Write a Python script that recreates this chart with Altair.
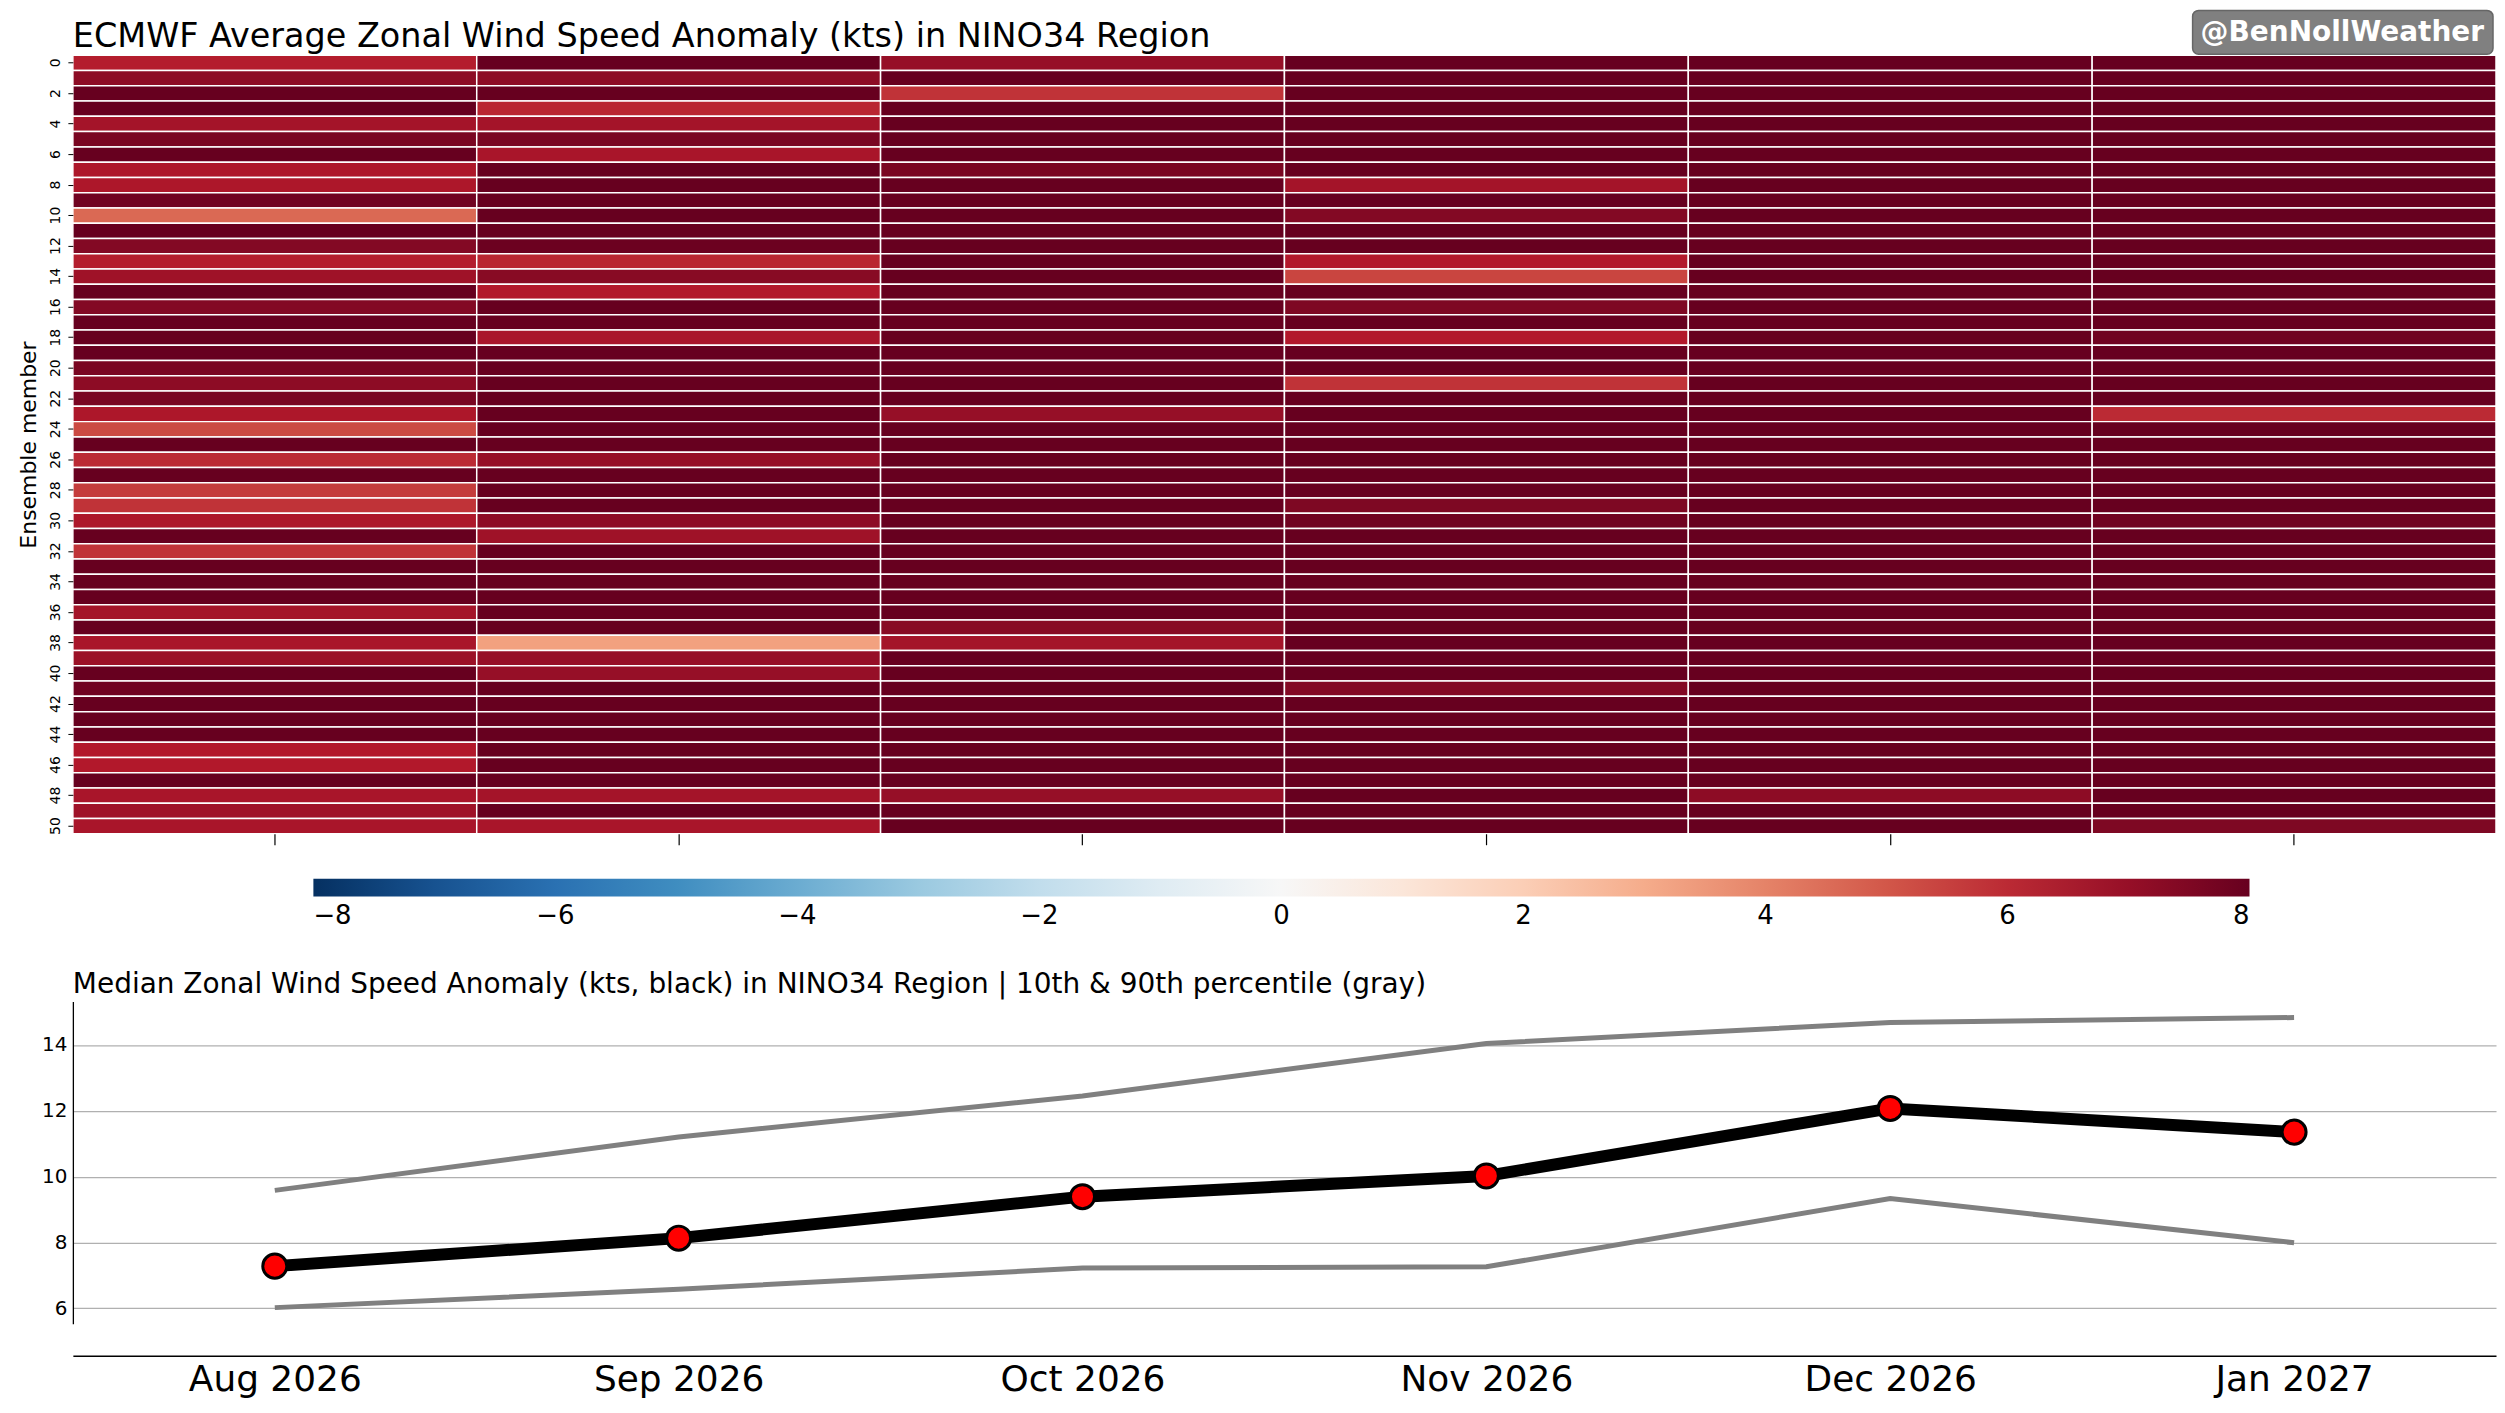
import altair as alt
import pandas as pd

months = ["Aug 2026", "Sep 2026", "Oct 2026", "Nov 2026", "Dec 2026", "Jan 2027"]
members = list(range(51))

aug = [6.3, 7.2, 9.0, 8.8, 6.7, 7.6, 8.5, 6.5, 6.5, 7.8, 4.6, 8.7, 7.4, 6.3, 6.8, 8.4, 7.4,
       9.7, 8.3, 8.9, 7.6, 7.2, 7.6, 6.5, 5.3, 10.2, 6.0, 8.6, 5.6, 5.8, 6.5, 8.2, 5.8, 11.0,
       8.5, 8.8, 6.7, 9.6, 6.6, 6.9, 8.4, 7.8, 10.5, 8.9, 8.3, 6.4, 6.4, 9.9, 6.6, 6.8, 6.6]
sep = [8.6, 7.2, 9.4, 6.1, 6.7, 7.6, 6.6, 8.8, 9.0, 8.1, 11.3, 8.05, 7.9, 6.1, 7.3, 6.4, 8.7,
       9.9, 6.6, 8.12, 9.2, 8.9, 12.3, 8.2, 9.1, 11.2, 7.0, 8.14, 9.5, 8.8, 7.2, 6.8, 11.6, 8.6,
       9.3, 11.5, 8.15, 9.7, 3.3, 7.0, 7.0, 8.9, 10.8, 8.1, 9.4, 8.7, 11.9, 9.0, 6.7, 8.18, 6.6]
octo = [7.0, 9.8, 5.8, 10.6, 8.9, 9.2, 11.4, 7.6, 12.5, 9.5, 8.4, 10.1, 13.2, 9.0, 8.6, 11.0,
        9.7, 12.8, 8.2, 10.4, 9.3, 8.8, 11.8, 7.0, 9.6, 13.6, 8.5, 10.9, 9.1, 12.1, 8.3, 9.9,
        10.3, 8.7, 12.6, 9.4, 11.2, 7.3, 6.7, 10.0, 8.1, 9.4, 14.2, 8.9, 10.7, 12.4, 9.0, 11.6,
        7.0, 8.0, 9.2]
nov = [10.8, 9.2, 12.4, 10.2, 8.6, 11.5, 9.8, 13.1, 6.7, 10.5, 7.4, 9.0, 12.0, 6.4, 5.4, 10.9,
       7.5, 14.6, 6.4, 9.5, 11.2, 5.8, 10.0, 8.3, 14.0, 9.7, 10.6, 12.7, 8.8, 7.5, 7.8, 11.8,
       9.3, 14.1, 10.3, 8.1, 14.05, 9.9, 11.0, 15.2, 10.0, 7.4, 12.2, 9.6, 8.4, 14.8, 10.1,
       11.4, 9.1, 13.0, 10.4]
dec = [12.8, 11.4, 13.9, 12.1, 10.2, 14.9, 12.6, 11.0, 9.2, 13.3, 12.0, 10.8, 15.4, 12.3, 9.3,
       11.7, 13.6, 12.9, 10.5, 14.2, 11.9, 12.1, 9.4, 13.0, 11.2, 14.7, 12.4, 10.0, 13.8, 11.5,
       12.7, 9.9, 15.8, 11.8, 12.2, 10.6, 14.4, 13.1, 8.9, 11.3, 12.5, 14.8, 10.9, 12.0, 13.5,
       9.35, 11.6, 16.1, 7.2, 12.2, 10.4]
jan = [12.2, 10.6, 13.4, 9.1, 11.8, 14.3, 10.2, 12.9, 8.4, 11.3, 15.6, 9.7, 12.5, 10.9, 8.1,
       13.8, 11.5, 10.0, 7.8, 14.9, 11.1, 12.7, 9.4, 6.0, 13.1, 11.4, 8.7, 15.2, 10.4, 12.0, 7.8,
       11.3, 13.6, 9.9, 14.8, 10.8, 12.3, 8.0, 11.7, 16.0, 9.2, 12.8, 10.5, 14.85, 11.0, 8.9,
       13.2, 11.6, 9.6, 12.1, 7.5]

median = [7.28, 8.13, 9.39, 10.02, 12.07, 11.35]
p90 = [9.58, 11.20, 12.45, 14.04, 14.68, 14.83]
p10 = [6.02, 6.58, 7.22, 7.26, 9.33, 7.99]

cbar_ticks = [-8, -6, -4, -2, 0, 2, 4, 6, 8]
member_ticks = list(range(0, 51, 2))
y_ticks = [6, 8, 10, 12, 14]

# RdBu_r colour stops (matplotlib) over -8 .. 8
rdbu_r = ["#053061", "#2166ac", "#4393c3", "#92c5de", "#d1e5f0", "#f7f7f7",
          "#fddbc7", "#f4a582", "#d6604d", "#b2182b", "#67001f"]
rdbu_stops = [-8, -6.4, -4.8, -3.2, -1.6, 0, 1.6, 3.2, 4.8, 6.4, 8]

title_top = "ECMWF Average Zonal Wind Speed Anomaly (kts) in NINO34 Region"
title_bottom = ("Median Zonal Wind Speed Anomaly (kts, black) in NINO34 Region | "
                "10th & 90th percentile (gray)")
watermark = "@BenNollWeather"

rows = []
for m, col in zip(months, [aug, sep, octo, nov, dec, jan]):
    for i, v in enumerate(col):
        rows.append({"month": m, "member": members[i], "anom": v})
heat_df = pd.DataFrame(rows)

W = 2428
H1 = 780
H2 = 323
FONT = "DejaVu Sans"

heat = alt.Chart(heat_df).mark_rect(stroke="white", strokeWidth=1.5).encode(
    x=alt.X("month:N", sort=months,
            scale=alt.Scale(paddingInner=0, paddingOuter=0),
            axis=alt.Axis(labels=False, title=None, domain=False, ticks=True,
                          tickSize=11, tickColor="black", tickWidth=1.2)),
    y=alt.Y("member:O", sort=members,
            scale=alt.Scale(paddingInner=0, paddingOuter=0),
            axis=alt.Axis(values=member_ticks, labelAngle=-90, labelFontSize=14,
                          tickSize=5, tickColor="black", domain=False,
                          labelPadding=5, title="Ensemble member", titleFontSize=22,
                          titleFontWeight="normal", titlePadding=8)),
    color=alt.Color("anom:Q",
                    scale=alt.Scale(domain=rdbu_stops, range=rdbu_r, interpolate="rgb",
                                    clamp=True),
                    legend=alt.Legend(orient="none", direction="horizontal", legendX=241,
                                      legendY=825, gradientLength=1940, gradientThickness=18,
                                      title=None, values=cbar_ticks, format=".0f",
                                      labelFontSize=26, labelAlign="center", padding=0,
                                      labelOffset=6, gradientStrokeWidth=0)),
)

txt_df = pd.DataFrame({"title": [title_top], "wm": [watermark]})
title_mark = alt.Chart(txt_df).mark_text(font=FONT, fontSize=33.5, color="black",
                                         align="left", baseline="alphabetic").encode(
    x=alt.value(0), y=alt.value(-8), text="title:N")
wm_box = alt.Chart(txt_df).mark_rect(fill="#808080", stroke="#666666", strokeWidth=1.5,
                                     cornerRadius=6).encode(
    x=alt.value(2124), x2=alt.value(2425), y=alt.value(-45), y2=alt.value(-1))
wm_text = alt.Chart(txt_df).mark_text(font=FONT, fontSize=28, fontWeight="bold", color="white",
                                      align="center", baseline="middle").encode(
    x=alt.value(2274), y=alt.value(-22), text="wm:N")

top = alt.layer(heat, title_mark, wm_box, wm_text).properties(width=W, height=H1)

line_df = pd.DataFrame({"month": months, "median": median, "p90": p90, "p10": p10})

xenc = alt.X("month:N", sort=months, scale=alt.Scale(type="point", padding=0.5),
             axis=alt.Axis(title=None, labelAngle=0, labelFontSize=36, ticks=False,
                           domainColor="black", domainWidth=1.5, offset=32, labelPadding=7,
                           grid=False, labelColor="black"))
yscale = alt.Scale(domain=[5.53, 15.32], nice=False, zero=False)
yaxis = alt.Axis(values=y_ticks, title=None, grid=True, gridColor="#b0b0b0", gridWidth=1.3,
                 ticks=False, labelFontSize=20, domainColor="black", domainWidth=1.3,
                 labelPadding=6, labelColor="black")

base = alt.Chart(line_df)
g90 = base.mark_line(color="#808080", strokeWidth=5).encode(
    x=xenc, y=alt.Y("p90:Q", scale=yscale, axis=yaxis, title=None))
g10 = base.mark_line(color="#808080", strokeWidth=5).encode(
    x=xenc, y=alt.Y("p10:Q", scale=yscale, title=None))
med = base.mark_line(color="black", strokeWidth=12).encode(
    x=xenc, y=alt.Y("median:Q", scale=yscale, title=None))
pts = base.mark_circle(color="red", stroke="black", strokeWidth=3, size=580, opacity=1).encode(
    x=xenc, y=alt.Y("median:Q", scale=yscale, title=None))

bt_df = pd.DataFrame({"title": [title_bottom]})
bottom_title = alt.Chart(bt_df).mark_text(font=FONT, fontSize=28, color="black",
                                          align="left", baseline="alphabetic").encode(
    x=alt.value(0), y=alt.value(-8), text="title:N")

bottom = alt.layer(g90, g10, med, pts, bottom_title).properties(width=W, height=H2)

chart = alt.vconcat(top, bottom, spacing=43).resolve_scale(
    color="independent", x="independent", y="independent"
).resolve_legend(color="independent").properties(
    padding={"left": 10, "top": 0, "right": 0, "bottom": 0}
).configure(font=FONT).configure_view(stroke=None).configure_axis(
    labelFont=FONT, titleFont=FONT, labelColor="black", titleColor="black"
).configure_legend(labelFont=FONT, labelColor="black")

chart.save("out.html", embed_options={"renderer": "svg", "actions": False})
